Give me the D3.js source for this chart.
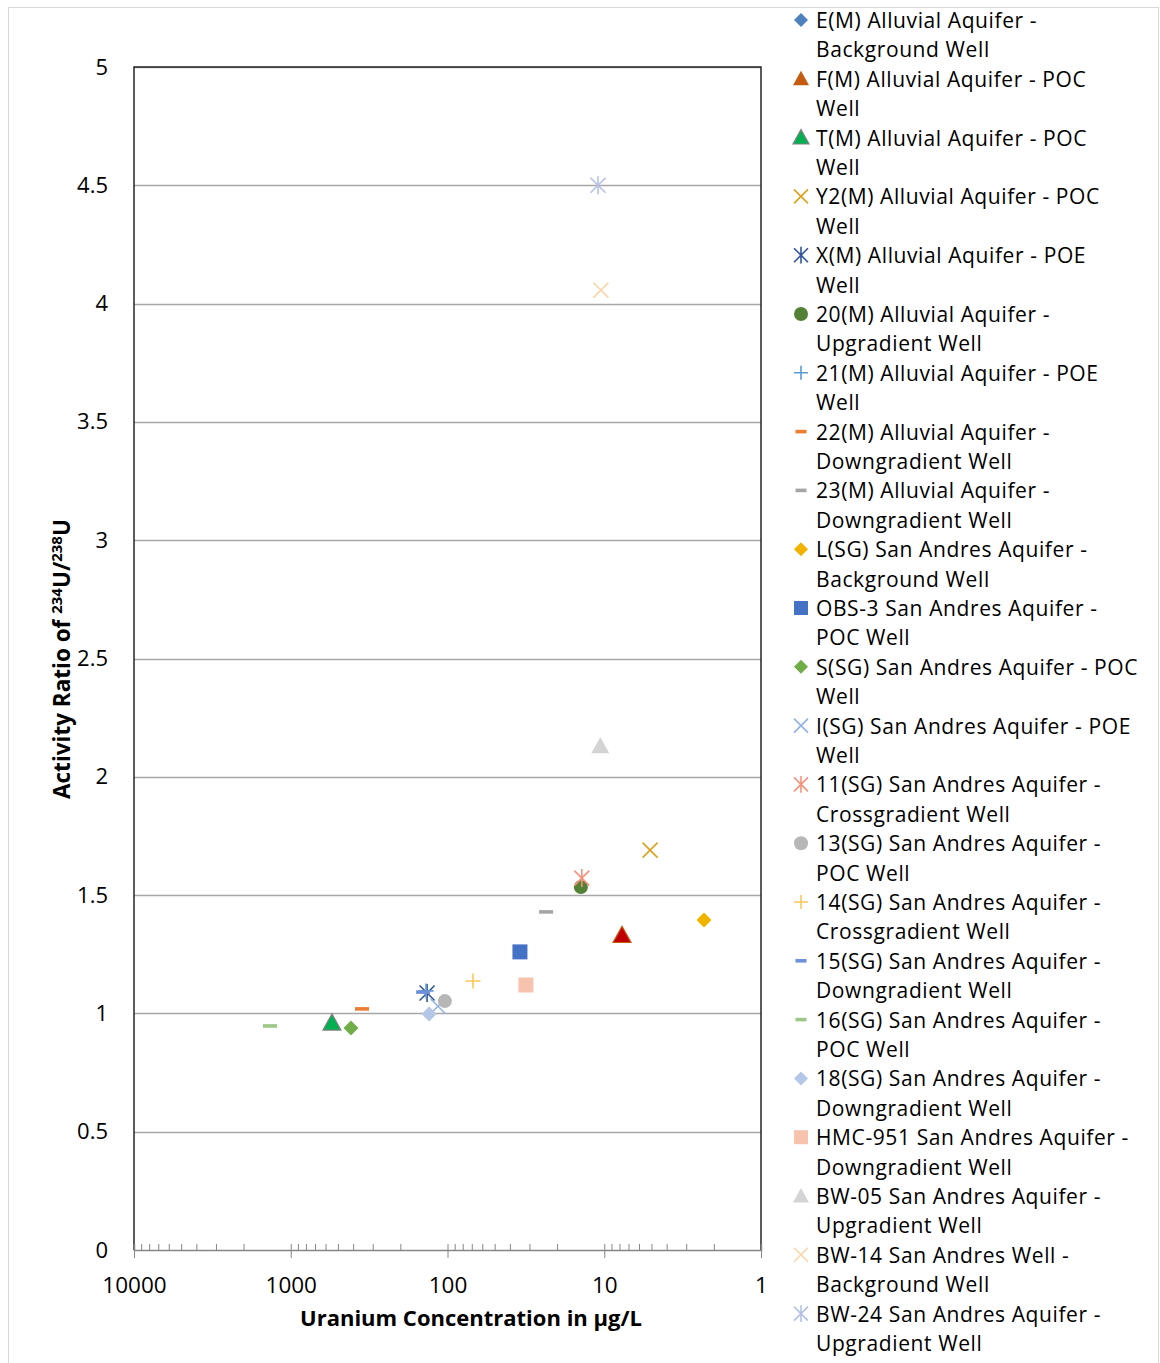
<!DOCTYPE html>
<html>
<head>
<meta charset="utf-8">
<script src="https://cdn.jsdelivr.net/npm/d3@7"></script>
<style>
  body { margin: 0; background: #fff; }
  svg text { font-family: "Open Sans", sans-serif; fill: #000; }
</style>
</head>
<body>
<div id="chart"></div>
<script>
// Well names (legend text, "|" marks the line break)
const wells = [
  "E(M) Alluvial Aquifer -|Background Well",
  "F(M) Alluvial Aquifer - POC|Well",
  "T(M) Alluvial Aquifer - POC|Well",
  "Y2(M) Alluvial Aquifer - POC|Well",
  "X(M) Alluvial Aquifer - POE|Well",
  "20(M) Alluvial Aquifer -|Upgradient Well",
  "21(M) Alluvial Aquifer - POE|Well",
  "22(M) Alluvial Aquifer -|Downgradient Well",
  "23(M) Alluvial Aquifer -|Downgradient Well",
  "L(SG) San Andres Aquifer -|Background Well",
  "OBS-3 San Andres Aquifer -|POC Well",
  "S(SG) San Andres Aquifer - POC|Well",
  "I(SG) San Andres Aquifer - POE|Well",
  "11(SG) San Andres Aquifer -|Crossgradient Well",
  "13(SG) San Andres Aquifer -|POC Well",
  "14(SG) San Andres Aquifer -|Crossgradient Well",
  "15(SG) San Andres Aquifer -|Downgradient Well",
  "16(SG) San Andres Aquifer -|POC Well",
  "18(SG) San Andres Aquifer -|Downgradient Well",
  "HMC-951 San Andres Aquifer -|Downgradient Well",
  "BW-05 San Andres Aquifer -|Upgradient Well",
  "BW-14 San Andres Well -|Background Well",
  "BW-24 San Andres Aquifer -|Upgradient Well"
];

// Uranium concentration (ug/L) for each well
const uranium = [null, 7.7, 546, 5.1, 135, 14.1, 137, 351, 23.5, 2.31, 34.5, 413,
  115, 13.9, 104, 68.8, 143, 1356, 131, 31.6, 10.6, 10.5, 10.96];

// Activity ratio 234U/238U for each well
const ratio = [null, 1.33, 0.96, 1.69, 1.086, 1.534, 1.095, 1.019, 1.429, 1.395, 1.26, 0.938,
  1.03, 1.572, 1.052, 1.137, 1.09, 0.947, 0.997, 1.12, 2.13, 4.057, 4.5];

const xTicks = [10000, 1000, 100, 10, 1];
const yTicks = [0, 0.5, 1, 1.5, 2, 2.5, 3, 3.5, 4, 4.5, 5];

// marker shape + colours per well
const markers = [
  { shape: "diamond", color: "#4f81bd" },
  { shape: "triangle", color: "#c55a11", plotFill: "#c00000" },
  { shape: "triangle", color: "#00b050", stroke: "#808080" },
  { shape: "x", color: "#d9a21b" },
  { shape: "star", color: "#2f5597" },
  { shape: "circle", color: "#538135" },
  { shape: "plus", color: "#5b9bd5" },
  { shape: "dash", color: "#ed7d31" },
  { shape: "dash", color: "#a5a5a5" },
  { shape: "diamond", color: "#f2b300" },
  { shape: "square", color: "#4472c4" },
  { shape: "diamond", color: "#70ad47" },
  { shape: "x", color: "#8fb4e3" },
  { shape: "star", color: "#f4937a" },
  { shape: "circle", color: "#b7b7b7" },
  { shape: "plus", color: "#fdc85a" },
  { shape: "dash", color: "#6f8fd8" },
  { shape: "dash", color: "#9dc788" },
  { shape: "diamond", color: "#b4c7e7" },
  { shape: "square", color: "#f7c3ae" },
  { shape: "triangle", color: "#d4d4d4" },
  { shape: "x", color: "#fdd6a8" },
  { shape: "star", color: "#b4c0e8" }
];

const width = 1160;
const height = 1363;
const plot = { left: 134, right: 761, top: 67, bottom: 1250 };

const svg = d3.select("#chart").append("svg")
  .attr("width", width)
  .attr("height", height);

// outer chart border
svg.append("rect")
  .attr("x", 8.5).attr("y", 7.5)
  .attr("width", 1150).attr("height", 1370)
  .attr("fill", "none").attr("stroke", "#d9d9d9");

const x = d3.scaleLog().domain([10000, 1]).range([plot.left, plot.right]);
const y = d3.scaleLinear().domain([0, 5]).range([plot.bottom, plot.top]);

// gridlines
svg.append("g")
  .selectAll("line")
  .data(yTicks.filter((d) => d > 0))
  .join("line")
  .attr("x1", plot.left).attr("x2", plot.right)
  .attr("y1", (d) => Math.round(y(d)) + 0.5)
  .attr("y2", (d) => Math.round(y(d)) + 0.5)
  .attr("stroke", "#a6a6a6").attr("stroke-width", 1.5);

// plot frame (left/top/right)
svg.append("path")
  .attr("d", `M${plot.left},${plot.bottom}V${plot.top}H${plot.right}V${plot.bottom}`)
  .attr("fill", "none").attr("stroke", "#262626").attr("stroke-width", 1.5);

// y tick labels
svg.append("g")
  .attr("transform", `translate(${plot.left},0)`)
  .call(d3.axisLeft(y).tickValues(yTicks).tickSize(0).tickPadding(26)
    .tickFormat((d) => d))
  .call((g) => g.select(".domain").remove())
  .call((g) => g.selectAll("text")
    .attr("font-size", 22).attr("font-family", "Open Sans"));

// x axis: minor ticks pointing up
const minor = x.ticks().filter((d) => xTicks.indexOf(d) < 0);
svg.append("g")
  .attr("transform", `translate(0,${plot.bottom})`)
  .call(d3.axisBottom(x).tickValues(minor).tickSize(-6).tickFormat(""))
  .call((g) => g.select(".domain").attr("stroke", "#868686").attr("stroke-width", 1.5))
  .call((g) => g.selectAll(".tick line").attr("stroke", "#868686"));

// x axis: major ticks crossing
svg.append("g")
  .attr("transform", `translate(0,${plot.bottom})`)
  .call(d3.axisBottom(x).tickValues(xTicks).tickSize(8).tickPadding(19)
    .tickFormat((d) => d))
  .call((g) => g.select(".domain").remove())
  .call((g) => g.selectAll(".tick line").attr("y1", -6).attr("stroke", "#868686"))
  .call((g) => g.selectAll("text")
    .attr("font-size", 22.5).attr("font-family", "Open Sans"));

// axis titles
svg.append("text")
  .attr("x", 471).attr("y", 1326)
  .attr("text-anchor", "middle")
  .attr("font-size", 22).attr("font-weight", "bold")
  .text("Uranium Concentration in µg/L");

const yTitle = svg.append("text")
  .attr("transform", "translate(70,659) rotate(-90)")
  .attr("text-anchor", "middle")
  .attr("font-size", 22.5).attr("font-weight", "bold");
yTitle.append("tspan").text("Activity Ratio of ");
yTitle.append("tspan").attr("font-size", 15).attr("dy", -8).text("234");
yTitle.append("tspan").attr("dy", 8).text("U/");
yTitle.append("tspan").attr("font-size", 15).attr("dy", -8).text("238");
yTitle.append("tspan").attr("dy", 8).text("U");

// marker path builder
function markerPath(shape, s) {
  const h = s / 2;
  switch (shape) {
    case "diamond": return `M0,${-h}L${h},0L0,${h}L${-h},0Z`;
    case "square": return `M${-h},${-h}H${h}V${h}H${-h}Z`;
    case "triangle": return `M0,${-h}L${h},${h * 0.8}H${-h}Z`;
    case "circle": return d3.symbol(d3.symbolCircle, Math.PI * h * h)();
    case "x": return `M${-h},${-h}L${h},${h}M${-h},${h}L${h},${-h}`;
    case "plus": return `M${-h},0H${h}M0,${-h}V${h}`;
    case "star": return `M${-h},${-h}L${h},${h}M${-h},${h}L${h},${-h}M0,${-h * 1.2}V${h * 1.2}`;
    case "dash": return `M${-h},${-1.8}H${h}V${1.8}H${-h}Z`;
  }
}
const lineShapes = ["x", "plus", "star"];

function drawMarker(sel, m, size, inPlot) {
  const isLine = lineShapes.indexOf(m.shape) >= 0;
  sel.append("path")
    .attr("d", markerPath(m.shape, size))
    .attr("fill", isLine ? "none" : (inPlot && m.plotFill ? m.plotFill : m.color))
    .attr("stroke", isLine ? m.color : (m.stroke || (inPlot && m.plotFill ? m.color : "none")))
    .attr("stroke-width", isLine ? 1.6 : 1.2);
}

// points
const pts = svg.append("g");
const plotSizes = { diamond: 15, square: 15, triangle: 18, circle: 14, x: 15, plus: 15, star: 15, dash: 14 };
wells.forEach((w, i) => {
  if (uranium[i] == null) return;
  const m = markers[i];
  const g = pts.append("g")
    .attr("transform", `translate(${x(uranium[i])},${y(ratio[i])})`);
  drawMarker(g, m, plotSizes[m.shape], true);
});

// legend
const legend = svg.append("g");
const rowH = 58.8;
const legSizes = { diamond: 14, square: 14, triangle: 16, circle: 14, x: 14, plus: 14, star: 14, dash: 11 };
wells.forEach((w, i) => {
  const g = legend.append("g").attr("transform", `translate(0,${20 + i * rowH})`);
  const m = markers[i];
  const mk = g.append("g").attr("transform", "translate(801,0)");
  drawMarker(mk, m, legSizes[m.shape], false);
  const lines = w.split("|");
  lines.forEach((t, j) => {
    g.append("text")
      .attr("x", 816).attr("y", 8 + j * rowH / 2)
      .attr("font-size", 21)
      .attr("letter-spacing", 0.6)
      .text(t);
  });
});
</script>
</body>
</html>
